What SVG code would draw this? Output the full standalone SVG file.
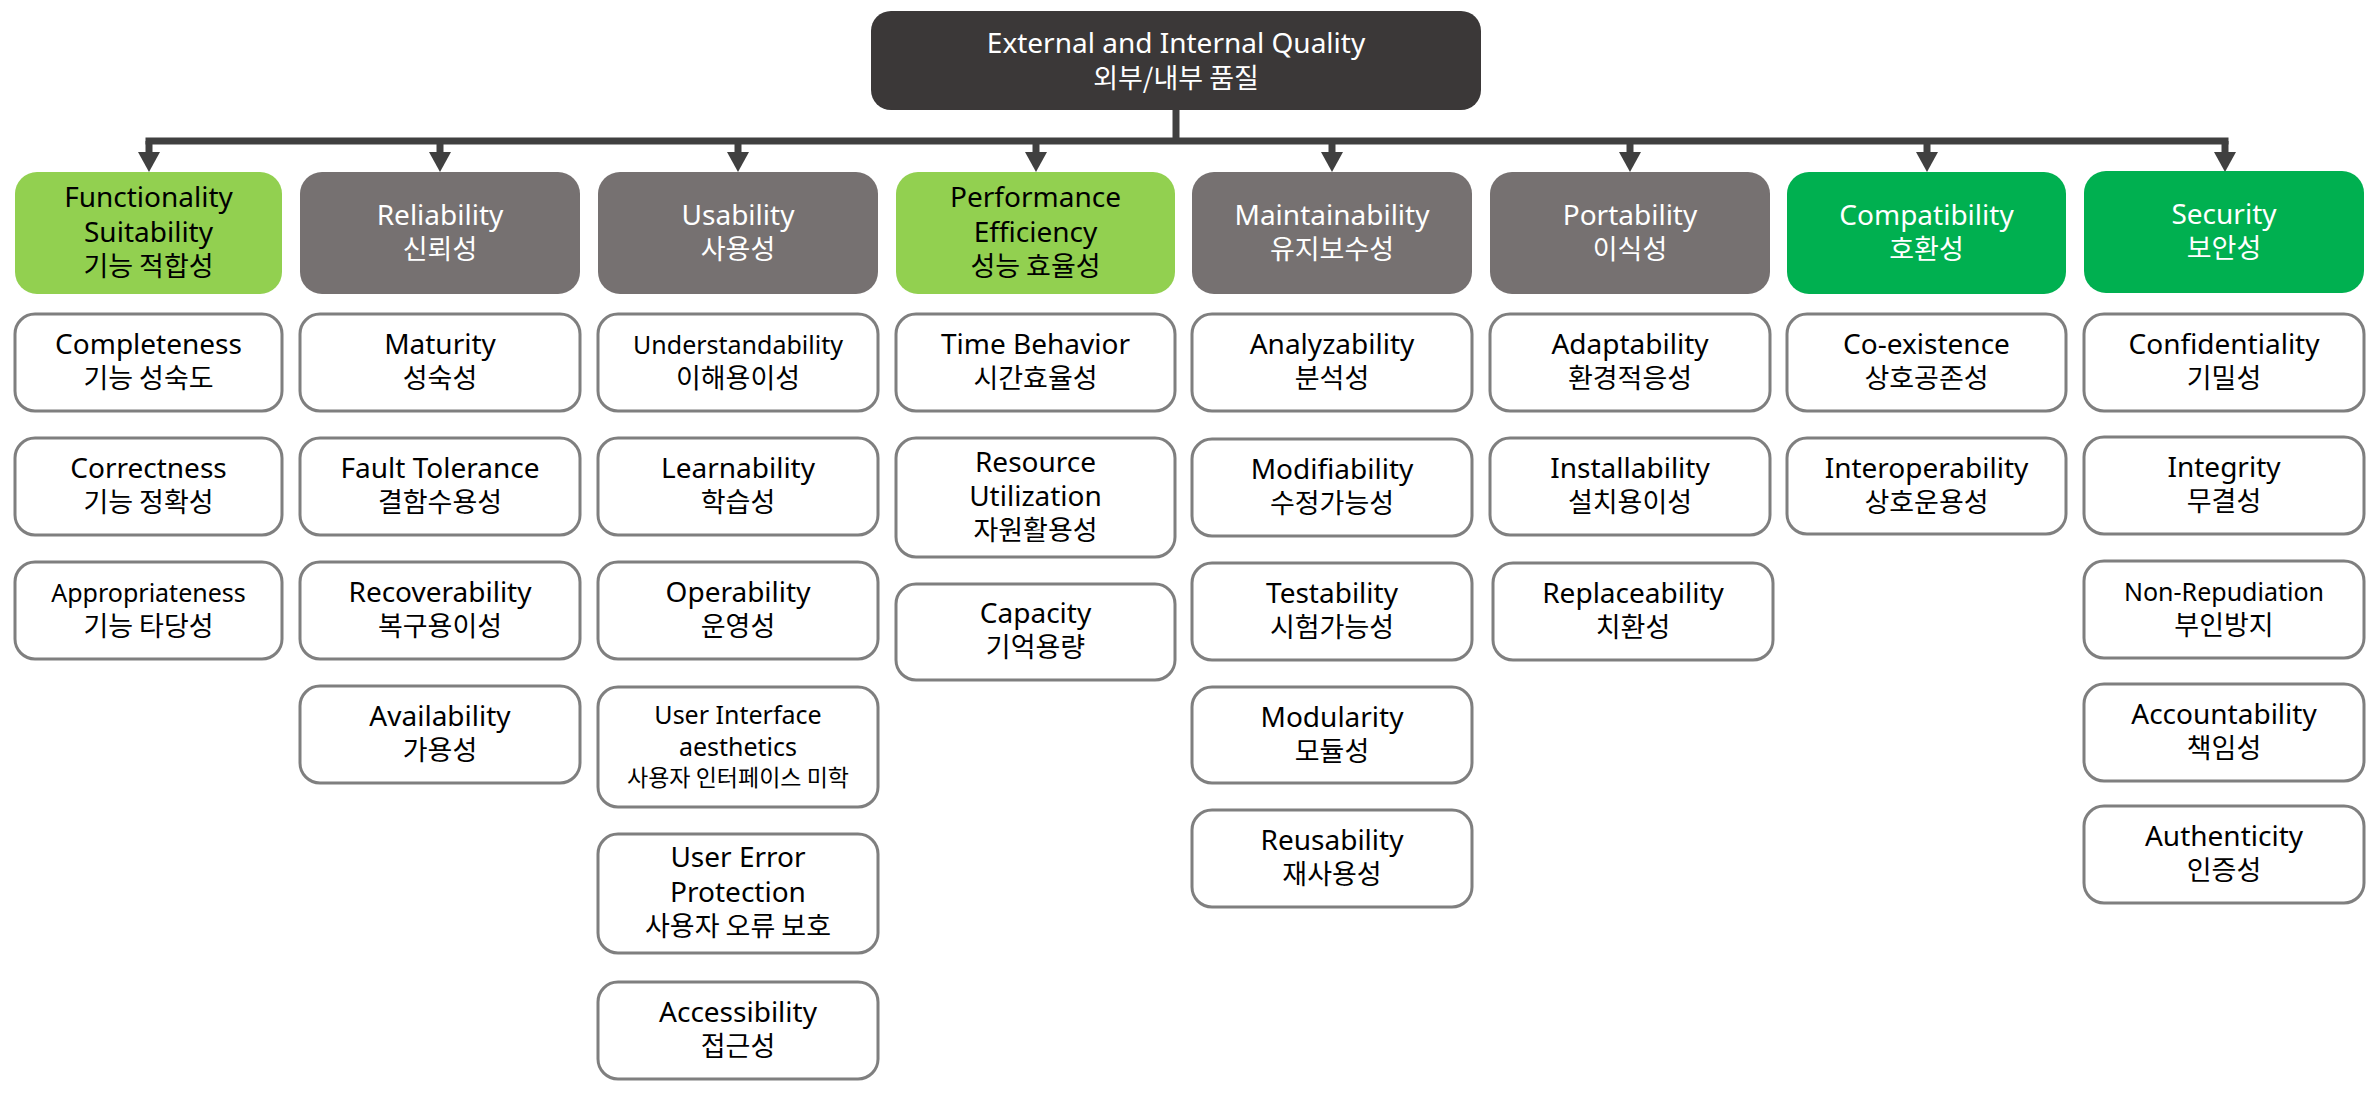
<svg xmlns="http://www.w3.org/2000/svg" width="2376" height="1093" viewBox="0 0 2376 1093">
<style>
.bg{fill:#ffffff}
.root{fill:#3b3838}
.gray{fill:#767171}
.lgreen{fill:#92d050}
.green{fill:#00b050}
.sub{fill:#ffffff;stroke:#7f7f7f;stroke-width:3}
text{text-anchor:middle;font-family:"Noto Sans","Noto Sans CJK KR",sans-serif;font-size:28px;fill:#000000}
.k{font-family:"Noto Sans CJK KR","Noto Sans",sans-serif;font-size:27px}
.w{fill:#ffffff}
.s25{font-size:25px}
.s23{font-size:23px}
.conn{fill:none;stroke:#404040;stroke-width:7}
</style>
<defs>
<marker id="arr" markerUnits="userSpaceOnUse" viewBox="0 0 20 22" markerWidth="20" markerHeight="22" refX="0" refY="11" orient="auto">
<path d="M0,0 L20,11 L0,22 z" fill="#404040"/>
</marker>
</defs>
<rect class="bg" x="0" y="0" width="2376" height="1093"/>

<g id="connectors">
<path class="conn" d="M1176,110 V141"/>
<path class="conn" d="M149,141 H2225" stroke-linecap="square"/>
<path class="conn" d="M149,141 V152" marker-end="url(#arr)"/>
<path class="conn" d="M440,141 V152" marker-end="url(#arr)"/>
<path class="conn" d="M738,141 V152" marker-end="url(#arr)"/>
<path class="conn" d="M1036,141 V152" marker-end="url(#arr)"/>
<path class="conn" d="M1332,141 V152" marker-end="url(#arr)"/>
<path class="conn" d="M1630,141 V152" marker-end="url(#arr)"/>
<path class="conn" d="M1927,141 V152" marker-end="url(#arr)"/>
<path class="conn" d="M2225,141 V152" marker-end="url(#arr)"/>
</g>

<g id="root">
<rect class="root" x="871" y="11" width="610" height="99" rx="20"/>
<text class="w"><tspan x="1176" y="53">External and Internal Quality</tspan><tspan class="k" x="1176" y="88">외부/내부 품질</tspan></text>
</g>

<!-- Headers -->
<g id="h-functionality">
<rect class="lgreen" x="15" y="172" width="267" height="122" rx="22"/>
<text><tspan x="148.5" y="207">Functionality</tspan><tspan x="148.5" y="242">Suitability</tspan><tspan class="k" x="148.5" y="276">기능 적합성</tspan></text>
</g>
<g id="h-reliability">
<rect class="gray" x="300" y="172" width="280" height="122" rx="22"/>
<text class="w"><tspan x="440" y="225">Reliability</tspan><tspan class="k" x="440" y="259">신뢰성</tspan></text>
</g>
<g id="h-usability">
<rect class="gray" x="598" y="172" width="280" height="122" rx="22"/>
<text class="w"><tspan x="738" y="225">Usability</tspan><tspan class="k" x="738" y="259">사용성</tspan></text>
</g>
<g id="h-performance">
<rect class="lgreen" x="896" y="172" width="279" height="122" rx="22"/>
<text><tspan x="1035.5" y="207">Performance</tspan><tspan x="1035.5" y="242">Efficiency</tspan><tspan class="k" x="1035.5" y="276">성능 효율성</tspan></text>
</g>
<g id="h-maintainability">
<rect class="gray" x="1192" y="172" width="280" height="122" rx="22"/>
<text class="w"><tspan x="1332" y="225">Maintainability</tspan><tspan class="k" x="1332" y="259">유지보수성</tspan></text>
</g>
<g id="h-portability">
<rect class="gray" x="1490" y="172" width="280" height="122" rx="22"/>
<text class="w"><tspan x="1630" y="225">Portability</tspan><tspan class="k" x="1630" y="259">이식성</tspan></text>
</g>
<g id="h-compatibility">
<rect class="green" x="1787" y="172" width="279" height="122" rx="22"/>
<text class="w"><tspan x="1926.5" y="225">Compatibility</tspan><tspan class="k" x="1926.5" y="259">호환성</tspan></text>
</g>
<g id="h-security">
<rect class="green" x="2084" y="171" width="280" height="122" rx="22"/>
<text class="w"><tspan x="2224" y="224">Security</tspan><tspan class="k" x="2224" y="258">보안성</tspan></text>
</g>

<!-- Column 1 -->
<g id="completeness">
<rect class="sub" x="15" y="314" width="267" height="97" rx="20"/>
<text><tspan x="148.5" y="354">Completeness</tspan><tspan class="k" x="148.5" y="388">기능 성숙도</tspan></text>
</g>
<g id="correctness">
<rect class="sub" x="15" y="438" width="267" height="97" rx="20"/>
<text><tspan x="148.5" y="478">Correctness</tspan><tspan class="k" x="148.5" y="512">기능 정확성</tspan></text>
</g>
<g id="appropriateness">
<rect class="sub" x="15" y="562" width="267" height="97" rx="20"/>
<text><tspan class="s25" x="148.5" y="602">Appropriateness</tspan><tspan class="k" x="148.5" y="636">기능 타당성</tspan></text>
</g>

<!-- Column 2 -->
<g id="maturity">
<rect class="sub" x="300" y="314" width="280" height="97" rx="20"/>
<text><tspan x="440" y="354">Maturity</tspan><tspan class="k" x="440" y="388">성숙성</tspan></text>
</g>
<g id="fault-tolerance">
<rect class="sub" x="300" y="438" width="280" height="97" rx="20"/>
<text><tspan x="440" y="478">Fault Tolerance</tspan><tspan class="k" x="440" y="512">결함수용성</tspan></text>
</g>
<g id="recoverability">
<rect class="sub" x="300" y="562" width="280" height="97" rx="20"/>
<text><tspan x="440" y="602">Recoverability</tspan><tspan class="k" x="440" y="636">복구용이성</tspan></text>
</g>
<g id="availability">
<rect class="sub" x="300" y="686" width="280" height="97" rx="20"/>
<text><tspan x="440" y="726">Availability</tspan><tspan class="k" x="440" y="760">가용성</tspan></text>
</g>

<!-- Column 3 -->
<g id="understandability">
<rect class="sub" x="598" y="314" width="280" height="97" rx="20"/>
<text><tspan class="s25" x="738" y="354">Understandability</tspan><tspan class="k" x="738" y="388">이해용이성</tspan></text>
</g>
<g id="learnability">
<rect class="sub" x="598" y="438" width="280" height="97" rx="20"/>
<text><tspan x="738" y="478">Learnability</tspan><tspan class="k" x="738" y="512">학습성</tspan></text>
</g>
<g id="operability">
<rect class="sub" x="598" y="562" width="280" height="97" rx="20"/>
<text><tspan x="738" y="602">Operability</tspan><tspan class="k" x="738" y="636">운영성</tspan></text>
</g>
<g id="ui-aesthetics">
<rect class="sub" x="598" y="687" width="280" height="120" rx="20"/>
<text><tspan class="s25" x="738" y="724">User Interface</tspan><tspan class="s25" x="738" y="756">aesthetics</tspan><tspan class="k s23" x="738" y="786">사용자 인터페이스 미학</tspan></text>
</g>
<g id="user-error-protection">
<rect class="sub" x="598" y="834" width="280" height="119" rx="20"/>
<text><tspan x="738" y="867">User Error</tspan><tspan x="738" y="902">Protection</tspan><tspan class="k" x="738" y="936">사용자 오류 보호</tspan></text>
</g>
<g id="accessibility">
<rect class="sub" x="598" y="982" width="280" height="97" rx="20"/>
<text><tspan x="738" y="1022">Accessibility</tspan><tspan class="k" x="738" y="1056">접근성</tspan></text>
</g>

<!-- Column 4 -->
<g id="time-behavior">
<rect class="sub" x="896" y="314" width="279" height="97" rx="20"/>
<text><tspan x="1035.5" y="354">Time Behavior</tspan><tspan class="k" x="1035.5" y="388">시간효율성</tspan></text>
</g>
<g id="resource-utilization">
<rect class="sub" x="896" y="438" width="279" height="119" rx="20"/>
<text><tspan x="1035.5" y="472">Resource</tspan><tspan x="1035.5" y="506">Utilization</tspan><tspan class="k" x="1035.5" y="540">자원활용성</tspan></text>
</g>
<g id="capacity">
<rect class="sub" x="896" y="584" width="279" height="96" rx="20"/>
<text><tspan x="1035.5" y="623">Capacity</tspan><tspan class="k" x="1035.5" y="657">기억용량</tspan></text>
</g>

<!-- Column 5 -->
<g id="analyzability">
<rect class="sub" x="1192" y="314" width="280" height="97" rx="20"/>
<text><tspan x="1332" y="354">Analyzability</tspan><tspan class="k" x="1332" y="388">분석성</tspan></text>
</g>
<g id="modifiability">
<rect class="sub" x="1192" y="439" width="280" height="97" rx="20"/>
<text><tspan x="1332" y="479">Modifiability</tspan><tspan class="k" x="1332" y="513">수정가능성</tspan></text>
</g>
<g id="testability">
<rect class="sub" x="1192" y="563" width="280" height="97" rx="20"/>
<text><tspan x="1332" y="603">Testability</tspan><tspan class="k" x="1332" y="637">시험가능성</tspan></text>
</g>
<g id="modularity">
<rect class="sub" x="1192" y="687" width="280" height="96" rx="20"/>
<text><tspan x="1332" y="727">Modularity</tspan><tspan class="k" x="1332" y="761">모듈성</tspan></text>
</g>
<g id="reusability">
<rect class="sub" x="1192" y="810" width="280" height="97" rx="20"/>
<text><tspan x="1332" y="850">Reusability</tspan><tspan class="k" x="1332" y="884">재사용성</tspan></text>
</g>

<!-- Column 6 -->
<g id="adaptability">
<rect class="sub" x="1490" y="314" width="280" height="97" rx="20"/>
<text><tspan x="1630" y="354">Adaptability</tspan><tspan class="k" x="1630" y="388">환경적응성</tspan></text>
</g>
<g id="installability">
<rect class="sub" x="1490" y="438" width="280" height="97" rx="20"/>
<text><tspan x="1630" y="478">Installability</tspan><tspan class="k" x="1630" y="512">설치용이성</tspan></text>
</g>
<g id="replaceability">
<rect class="sub" x="1493" y="563" width="280" height="97" rx="20"/>
<text><tspan x="1633" y="603">Replaceability</tspan><tspan class="k" x="1633" y="637">치환성</tspan></text>
</g>

<!-- Column 7 -->
<g id="co-existence">
<rect class="sub" x="1787" y="314" width="279" height="97" rx="20"/>
<text><tspan x="1926.5" y="354">Co-existence</tspan><tspan class="k" x="1926.5" y="388">상호공존성</tspan></text>
</g>
<g id="interoperability">
<rect class="sub" x="1787" y="438" width="279" height="96" rx="20"/>
<text><tspan x="1926.5" y="478">Interoperability</tspan><tspan class="k" x="1926.5" y="512">상호운용성</tspan></text>
</g>

<!-- Column 8 -->
<g id="confidentiality">
<rect class="sub" x="2084" y="314" width="280" height="97" rx="20"/>
<text><tspan x="2224" y="354">Confidentiality</tspan><tspan class="k" x="2224" y="388">기밀성</tspan></text>
</g>
<g id="integrity">
<rect class="sub" x="2084" y="437" width="280" height="97" rx="20"/>
<text><tspan x="2224" y="477">Integrity</tspan><tspan class="k" x="2224" y="511">무결성</tspan></text>
</g>
<g id="non-repudiation">
<rect class="sub" x="2084" y="561" width="280" height="97" rx="20"/>
<text><tspan class="s25" x="2224" y="601">Non-Repudiation</tspan><tspan class="k" x="2224" y="635">부인방지</tspan></text>
</g>
<g id="accountability">
<rect class="sub" x="2084" y="684" width="280" height="97" rx="20"/>
<text><tspan x="2224" y="724">Accountability</tspan><tspan class="k" x="2224" y="758">책임성</tspan></text>
</g>
<g id="authenticity">
<rect class="sub" x="2084" y="806" width="280" height="97" rx="20"/>
<text><tspan x="2224" y="846">Authenticity</tspan><tspan class="k" x="2224" y="880">인증성</tspan></text>
</g>
</svg>
